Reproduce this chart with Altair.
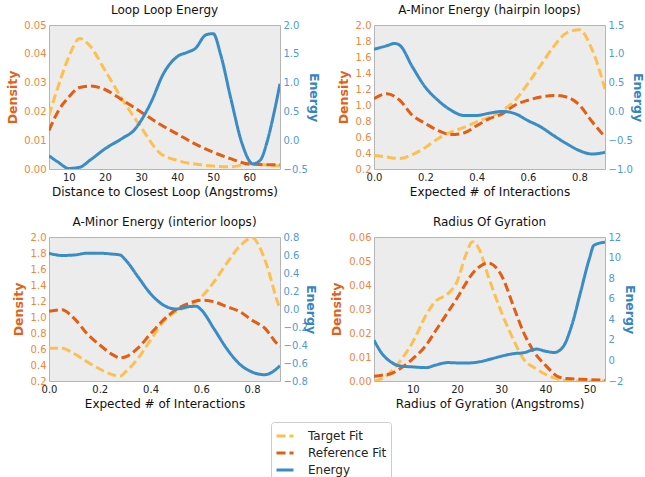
import altair as alt
import pandas as pd

FONT = "DejaVu Sans"
SERIES = ["Target Fit", "Reference Fit", "Energy"]
COLORS = ["#fdc04f", "#e35d12", "#3a8dc4"]
DASHES = [[9, 4], [9, 4], [1, 0]]

# ---- Panel 1: Loop Loop Energy ----
p1_x = [4.5, 7, 10, 13, 16, 20, 25, 30, 35, 40, 45, 50, 55, 60, 65, 68.5]
p1_target = [0.0186, 0.0285, 0.039, 0.0453, 0.0425, 0.0343, 0.0238, 0.0145,
             0.0058, 0.003, 0.0017, 0.001, 0.0008, 0.0017, 0.0014, 0.001]
p1_ref = [0.0134, 0.020, 0.025, 0.0283, 0.0288, 0.0276, 0.0238, 0.0198,
          0.0157, 0.0122, 0.0087, 0.0058, 0.0035, 0.0017, 0.0015, 0.0015]
p1_ex = [4.5, 7, 10, 13, 16, 20, 25, 28, 30, 33, 36, 40, 43, 45, 48, 50, 52,
         55, 58, 61, 63, 65, 67, 68.5]
p1_energy = [-0.27, -0.38, -0.49, -0.47, -0.34, -0.15, 0.04, 0.17, 0.34, 0.69,
             1.13, 1.45, 1.53, 1.59, 1.83, 1.85, 1.5, 0.69, -0.06, -0.41,
             -0.35, -0.01, 0.52, 0.98]

# ---- Panel 2: A-Minor Energy (hairpin loops) ----
p2_x = [0.0, 0.05, 0.1, 0.15, 0.2, 0.25, 0.3, 0.35, 0.4, 0.45, 0.5, 0.55,
        0.6, 0.65, 0.7, 0.75, 0.8, 0.85, 0.9]
p2_target = [0.37, 0.35, 0.33, 0.38, 0.47, 0.58, 0.66, 0.72, 0.79, 0.85, 0.93,
             1.06, 1.27, 1.50, 1.73, 1.90, 1.94, 1.69, 1.20]
p2_ref = [1.08, 1.14, 1.06, 0.87, 0.77, 0.68, 0.63, 0.65, 0.74, 0.83, 0.89,
          1.0, 1.06, 1.10, 1.12, 1.10, 1.0, 0.79, 0.60]
p2_ex = [0.0, 0.05, 0.08, 0.1, 0.15, 0.2, 0.25, 0.3, 0.35, 0.4, 0.45, 0.5,
         0.55, 0.6, 0.65, 0.7, 0.75, 0.8, 0.85, 0.9]
p2_energy = [1.08, 1.14, 1.18, 1.15, 0.77, 0.42, 0.19, 0.02, -0.07, -0.07,
             -0.03, 0.0, -0.04, -0.16, -0.27, -0.42, -0.56, -0.68, -0.74, -0.71]

# ---- Panel 3: A-Minor Energy (interior loops) ----
p3_x = [0.0, 0.05, 0.1, 0.15, 0.2, 0.25, 0.28, 0.3, 0.35, 0.4, 0.45, 0.5,
        0.55, 0.6, 0.65, 0.7, 0.75, 0.8, 0.85, 0.9, 0.91]
p3_target = [0.61, 0.61, 0.54, 0.44, 0.35, 0.28, 0.26, 0.31, 0.48, 0.71, 0.94,
             1.07, 1.13, 1.25, 1.44, 1.67, 1.88, 1.99, 1.72, 1.19, 1.10]
p3_ref = [1.07, 1.09, 0.98, 0.79, 0.65, 0.53, 0.49, 0.50, 0.61, 0.79, 0.96,
          1.09, 1.17, 1.21, 1.19, 1.13, 1.07, 0.96, 0.86, 0.66, 0.63]
p3_ex = [0.0, 0.05, 0.1, 0.15, 0.2, 0.25, 0.28, 0.3, 0.35, 0.4, 0.45, 0.5,
         0.55, 0.58, 0.6, 0.65, 0.7, 0.75, 0.8, 0.85, 0.88, 0.91]
p3_energy = [0.62, 0.595, 0.60, 0.62, 0.62, 0.61, 0.60, 0.55, 0.36, 0.17,
             0.045, 0.0, 0.026, 0.03, -0.01, -0.22, -0.44, -0.61, -0.70,
             -0.73, -0.70, -0.63]

# ---- Panel 4: Radius Of Gyration ----
p4_x = [1.2, 3, 5, 7, 10, 13, 15, 18, 20, 22, 23.5, 25, 27, 30, 33, 35, 38,
        40, 43, 45, 50, 53.5]
p4_target = [0.0, 0.001, 0.0038, 0.008, 0.0163, 0.0275, 0.033, 0.0365, 0.0414,
             0.0526, 0.058, 0.055, 0.044, 0.0289, 0.0163, 0.0093, 0.005,
             0.0028, 0.0007, 0.0001, 0.0, 0.0]
p4_ref = [0.002, 0.0024, 0.003, 0.005, 0.0093, 0.0149, 0.0205, 0.0289, 0.0345,
          0.0407, 0.0448, 0.0475, 0.0492, 0.0442, 0.030, 0.0205, 0.0107,
          0.0066, 0.0017, 0.001, 0.0006, 0.0003]
p4_ex = [1.2, 3, 5, 7, 10, 13, 15, 18, 20, 23, 25, 28, 30, 33, 35, 38, 40, 42,
         44, 46, 48, 50, 51, 53.5]
p4_energy = [1.97, 0.67, -0.14, -0.53, -0.63, -0.70, -0.47, -0.21, -0.24,
             -0.24, -0.14, 0.18, 0.41, 0.67, 0.74, 1.1, 0.9, 0.77, 1.32, 3.44,
             6.7, 9.95, 11.2, 11.5]

W, H = 231, 144
MINUS = "replace(datum.label, '-', '\u2212')"


def panel(title, xtitle, x, target, ref, ex, energy, xdom, xticks, xfmt,
          ddom, dticks, dfmt, edom, eticks, efmt, dtx, etx):
    dens = pd.DataFrame({
        "x": list(x) * 2,
        "y": list(target) + list(ref),
        "series": ["Target Fit"] * len(x) + ["Reference Fit"] * len(x),
    })
    en = pd.DataFrame({"x": ex, "y": energy, "series": ["Energy"] * len(ex)})
    color = alt.Color("series:N", scale=alt.Scale(domain=SERIES, range=COLORS),
                      title=None)
    dash = alt.StrokeDash("series:N",
                          scale=alt.Scale(domain=SERIES, range=DASHES),
                          title=None)
    xenc = alt.X("x:Q", scale=alt.Scale(domain=xdom, nice=False, zero=False),
                 axis=alt.Axis(values=xticks, format=xfmt, title=xtitle))
    d = alt.Chart(dens).mark_line(strokeWidth=3, interpolate="monotone",
                                  clip=True).encode(
        x=xenc,
        y=alt.Y("y:Q", scale=alt.Scale(domain=ddom, nice=False, zero=False),
                axis=alt.Axis(orient="left", title="Density", values=dticks,
                              format=dfmt, labelColor="#ee8640",
                              titleColor="#e0621a", titleFontWeight="bold",
                              titleFontSize=12.5, titleX=dtx, titleY=H / 2,
                              titleAngle=270, titleAlign="center",
                              titleBaseline="middle")),
        color=color, strokeDash=dash)
    e = alt.Chart(en).mark_line(strokeWidth=3, interpolate="monotone",
                                clip=True).encode(
        x=xenc,
        y=alt.Y("y:Q", scale=alt.Scale(domain=edom, nice=False, zero=False),
                axis=alt.Axis(orient="right", title="Energy", values=eticks,
                              format=efmt, labelExpr=MINUS,
                              labelColor="#4f9bd0",
                              titleColor="#3585c0", titleFontWeight="bold",
                              titleFontSize=12.5, titleX=etx, titleY=H / 2,
                              titleAngle=90, titleAlign="center",
                              titleBaseline="middle")),
        color=color, strokeDash=dash)
    return alt.layer(d, e).resolve_scale(y="independent").properties(
        width=W, height=H,
        title=alt.TitleParams(title, fontSize=12, font=FONT,
                              fontWeight="normal", color="#111", offset=3))


c1 = panel("Loop Loop Energy", "Distance to Closest Loop (Angstroms)",
           p1_x, p1_target, p1_ref, p1_ex, p1_energy, [4.5, 68.5],
           [10, 20, 30, 40, 50, 60], "d",
           [0, 0.05], [0, 0.01, 0.02, 0.03, 0.04, 0.05], ".2f",
           [-0.5, 2.0], [-0.5, 0, 0.5, 1.0, 1.5, 2.0], ".1f", -37, 33)
c2 = panel("A-Minor Energy (hairpin loops)", "Expected # of Interactions",
           p2_x, p2_target, p2_ref, p2_ex, p2_energy, [0, 0.9],
           [0, 0.2, 0.4, 0.6, 0.8], ".1f",
           [0.2, 2.0], [0.2, 0.4, 0.6, 0.8, 1.0, 1.2, 1.4, 1.6, 1.8, 2.0], ".1f",
           [-1.0, 1.5], [-1.0, -0.5, 0, 0.5, 1.0, 1.5], ".1f", -31, 32)
c3 = panel("A-Minor Energy (interior loops)", "Expected # of Interactions",
           p3_x, p3_target, p3_ref, p3_ex, p3_energy, [0, 0.91],
           [0, 0.2, 0.4, 0.6, 0.8], ".1f",
           [0.2, 2.0], [0.2, 0.4, 0.6, 0.8, 1.0, 1.2, 1.4, 1.6, 1.8, 2.0], ".1f",
           [-0.8, 0.8], [-0.8, -0.6, -0.4, -0.2, 0, 0.2, 0.4, 0.6, 0.8], ".1f",
           -31, 30)
c4 = panel("Radius Of Gyration", "Radius of Gyration (Angstroms)",
           p4_x, p4_target, p4_ref, p4_ex, p4_energy, [1.2, 53.5],
           [10, 20, 30, 40, 50], "d",
           [0, 0.06], [0, 0.01, 0.02, 0.03, 0.04, 0.05, 0.06], ".2f",
           [-2, 12], [-2, 0, 2, 4, 6, 8, 10, 12], "d", -38, 24)

chart = alt.concat(c1, c2, c3, c4, columns=2).properties(
    bounds="flush",
    spacing={"row": 68, "column": 94},
    padding={"left": 5, "top": 3, "right": 0, "bottom": 0},
).configure_view(
    fill="#ececec", stroke="#b5b5b5", strokeWidth=1
).configure_axis(
    labelFont=FONT, labelFontSize=10, titleFont=FONT, titleFontSize=12,
    titleFontWeight="normal", ticks=False, domain=False, grid=False,
    labelPadding=3, titlePadding=4, labelColor="#222", titleColor="#111",
    labelFlush=False
).configure_legend(
    orient="none", legendX=222, legendY=397, symbolType="stroke",
    symbolStrokeWidth=3, symbolSize=289, labelFont=FONT, labelFontSize=12,
    labelColor="#222", strokeColor="#cccccc", fillColor="white", padding=4,
    cornerRadius=3, rowPadding=1, labelOffset=13, direction="vertical"
)

chart.save("out.html", embed_options={"renderer": "svg", "actions": False})
